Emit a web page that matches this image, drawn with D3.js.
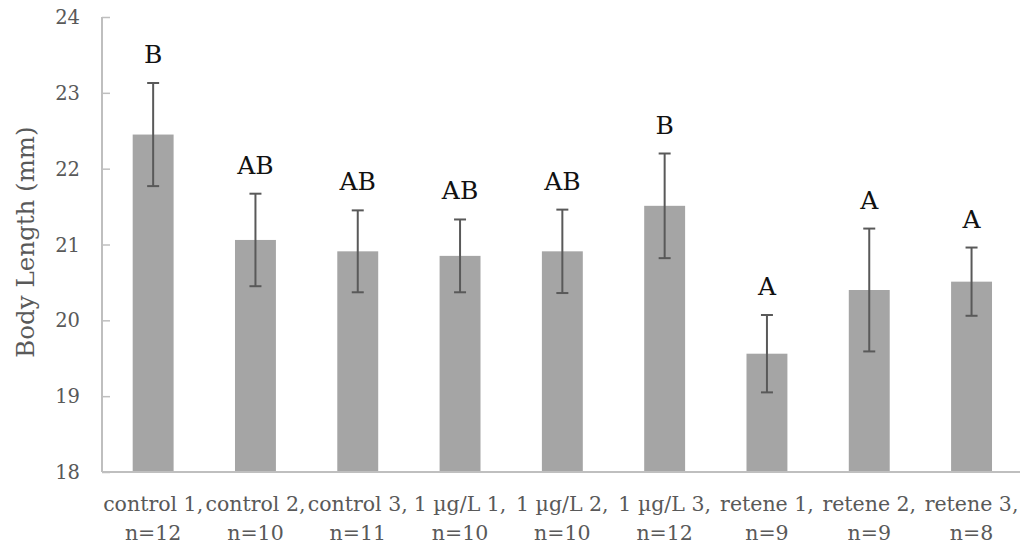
<!DOCTYPE html>
<html>
<head>
<meta charset="utf-8">
<script src="https://cdn.jsdelivr.net/npm/d3@7"></script>
<style>
  body { margin: 0; background: #fff; }
  svg { display: block; }
</style>
</head>
<body>
<div id="Chart"></div>
<script>
// data
var groups = ["control 1,", "control 2,", "control 3,", "1 \u00b5g/L 1,", "1 \u00b5g/L 2,", "1 \u00b5g/L 3,", "retene 1,", "retene 2,", "retene 3,"];
var sizes = ["n=12", "n=10", "n=11", "n=10", "n=10", "n=12", "n=9", "n=9", "n=8"];
var means = [22.45, 21.06, 20.91, 20.85, 20.91, 21.51, 19.56, 20.40, 20.51];
var errs = [0.68, 0.61, 0.54, 0.48, 0.55, 0.69, 0.51, 0.81, 0.45];
var letters = ["B", "AB", "AB", "AB", "AB", "B", "A", "A", "A"];
var yTicks = [18, 19, 20, 21, 22, 23, 24];

var W = 1022, H = 547;
var margin = {top: 17, right: 0, bottom: 75, left: 102};
var serif = "'DejaVu Serif', serif";

var svg = d3.select("#Chart")
    .append("svg")
    .attr("width", W)
    .attr("height", H)
    .attr("class", "chart");

var data = groups.map(function(g, i) {
    return {group: g, n: sizes[i], mean: means[i], err: errs[i], letter: letters[i]};
});

var x = d3.scaleBand()
    .domain(groups)
    .range([margin.left, 1022.7])
    .paddingInner(0.6)
    .paddingOuter(0.3);
var y = d3.scaleLinear().domain([18, 24]).range([H - margin.bottom, margin.top]);

// Y axis, ticks pointing into the plot
var yAxis = d3.axisRight(y).tickValues(yTicks).tickSize(8).tickFormat("");
var gy = svg.append("g")
    .attr("class", "y axis")
    .attr("transform", "translate(" + margin.left + ",0)")
    .call(yAxis);
gy.select(".domain").attr("stroke", "#bfbfbf").attr("stroke-width", 2).attr("d", "M0," + y(24) + "V" + y(18));
gy.selectAll(".tick line").attr("stroke", "#bfbfbf").attr("stroke-width", 1.5);

svg.selectAll(".ylab")
    .data(yTicks)
    .enter().append("text")
    .attr("class", "ylab")
    .attr("x", 80)
    .attr("y", function(d) { return y(d); })
    .attr("dy", "0.36em")
    .attr("text-anchor", "end")
    .style("font-family", serif)
    .style("font-size", "19.5px")
    .style("fill", "#595959")
    .text(function(d) { return d; });

// Bars
svg.selectAll(".bar")
    .data(data)
    .enter().append("rect")
    .attr("class", "bar")
    .attr("fill", "#a5a5a5")
    .attr("x", function(d) { return x(d.group); })
    .attr("y", function(d) { return y(d.mean); })
    .attr("width", x.bandwidth())
    .attr("height", function(d) { return y(18) - y(d.mean); });

// X axis line
svg.append("line")
    .attr("x1", margin.left).attr("x2", 1020)
    .attr("y1", y(18)).attr("y2", y(18))
    .attr("stroke", "#bfbfbf")
    .attr("stroke-width", 2);

// Error bars
var cx = function(d) { return x(d.group) + x.bandwidth() / 2; };
var eb = svg.selectAll(".err")
    .data(data)
    .enter().append("g")
    .attr("class", "err")
    .attr("stroke", "#595959")
    .attr("stroke-width", 2);
eb.append("line")
    .attr("x1", cx).attr("x2", cx)
    .attr("y1", function(d) { return y(d.mean + d.err); })
    .attr("y2", function(d) { return y(d.mean - d.err); });
eb.append("line")
    .attr("x1", function(d) { return cx(d) - 6; }).attr("x2", function(d) { return cx(d) + 6; })
    .attr("y1", function(d) { return y(d.mean + d.err); })
    .attr("y2", function(d) { return y(d.mean + d.err); });
eb.append("line")
    .attr("x1", function(d) { return cx(d) - 6; }).attr("x2", function(d) { return cx(d) + 6; })
    .attr("y1", function(d) { return y(d.mean - d.err); })
    .attr("y2", function(d) { return y(d.mean - d.err); });

// significance letters
svg.selectAll(".sig")
    .data(data)
    .enter().append("text")
    .attr("class", "sig")
    .attr("x", cx)
    .attr("y", function(d) { return y(d.mean + d.err) - 20; })
    .attr("text-anchor", "middle")
    .style("font-family", serif)
    .style("font-size", "25px")
    .style("fill", "#111")
    .text(function(d) { return d.letter; });

// category labels, two lines
var xl = svg.selectAll(".xlab")
    .data(data)
    .enter().append("text")
    .attr("class", "xlab")
    .attr("text-anchor", "middle")
    .style("font-family", serif)
    .style("font-size", "20.5px")
    .style("fill", "#595959");
xl.append("tspan")
    .attr("x", cx).attr("y", 511)
    .text(function(d) { return d.group; });
xl.append("tspan")
    .attr("x", cx).attr("y", 540)
    .text(function(d) { return d.n; });

// Y title
svg.append("text")
    .attr("transform", "translate(34,242) rotate(-90)")
    .attr("text-anchor", "middle")
    .style("font-family", serif)
    .style("font-size", "24.5px")
    .style("fill", "#595959")
    .text("Body Length (mm)");
</script>
</body>
</html>
